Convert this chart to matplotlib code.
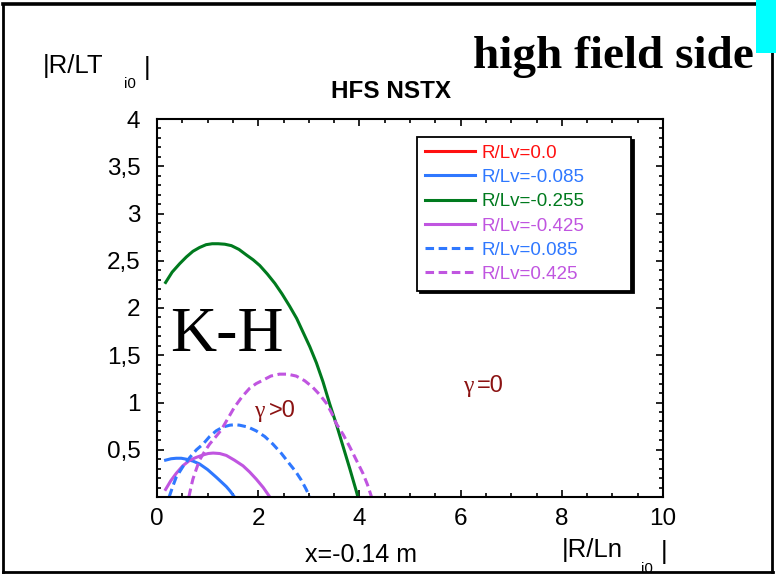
import matplotlib
matplotlib.use("Agg")
import matplotlib.pyplot as plt
from matplotlib.patches import Rectangle
from matplotlib.lines import Line2D
from matplotlib.ticker import MultipleLocator, FuncFormatter

plt.rcParams['font.family'] = ['Liberation Sans', 'DejaVu Sans']

# R/Lv = -0.255 (green, solid)
g_x = [0.17, 0.30, 0.45, 0.58, 0.71, 0.84, 0.97, 1.09, 1.21, 1.34, 1.47, 1.62, 1.77,
       1.90, 2.03, 2.18, 2.33, 2.47, 2.62, 2.76, 2.89, 3.02, 3.15, 3.28, 3.41, 3.55,
       3.68, 3.81, 3.94, 3.97]
g_y = [2.27, 2.38, 2.47, 2.54, 2.60, 2.64, 2.67, 2.68, 2.68, 2.675, 2.66, 2.62, 2.56,
       2.51, 2.45, 2.36, 2.26, 2.15, 2.02, 1.89, 1.74, 1.59, 1.42, 1.22, 0.99, 0.76,
       0.53, 0.30, 0.06, 0.0]
# R/Lv = -0.085 (blue, solid)
b_x = [0.17, 0.28, 0.38, 0.48, 0.58, 0.71, 0.84, 1.00, 1.17, 1.27, 1.37, 1.45, 1.53]
b_y = [0.39, 0.405, 0.41, 0.41, 0.40, 0.38, 0.35, 0.29, 0.21, 0.16, 0.11, 0.06, 0.0]
# R/Lv = -0.425 (purple, solid)
p_x = [0.17, 0.27, 0.38, 0.51, 0.65, 0.78, 0.91, 1.01, 1.11, 1.24, 1.37, 1.53, 1.70,
       1.83, 1.96, 2.10, 2.23]
p_y = [0.08, 0.17, 0.25, 0.33, 0.39, 0.42, 0.445, 0.46, 0.465, 0.46, 0.44, 0.39, 0.33,
       0.265, 0.19, 0.10, 0.0]
# R/Lv = 0.085 (blue, dashed)
bd_x = [0.24, 0.31, 0.38, 0.51, 0.65, 0.78, 0.91, 1.04, 1.17, 1.30, 1.44, 1.54, 1.63,
        1.80, 1.96, 2.13, 2.29, 2.46, 2.62, 2.74, 2.85, 2.94, 3.02]
bd_y = [0.0, 0.11, 0.21, 0.32, 0.42, 0.50, 0.56, 0.64, 0.70, 0.74, 0.76, 0.765, 0.76,
        0.74, 0.70, 0.64, 0.56, 0.46, 0.35, 0.27, 0.18, 0.09, 0.0]
# R/Lv = 0.425 (purple, dashed)
pd_x = [0.63, 0.67, 0.71, 0.78, 0.84, 0.94, 1.04, 1.15, 1.27, 1.40, 1.53, 1.68, 1.83,
        1.96, 2.09, 2.25, 2.42, 2.58, 2.75, 2.92, 3.08, 3.22, 3.35, 3.45, 3.54, 3.68,
        3.81, 3.94, 4.07, 4.16, 4.24]
pd_y = [0.0, 0.10, 0.19, 0.30, 0.39, 0.48, 0.56, 0.63, 0.71, 0.83, 0.95, 1.06, 1.15,
        1.20, 1.235, 1.28, 1.30, 1.30, 1.28, 1.23, 1.16, 1.08, 0.99, 0.89, 0.78, 0.66,
        0.53, 0.39, 0.25, 0.13, 0.0]
# R/Lv = 0.0 (red) - no visible curve
r_x = []
r_y = []

W, H = 776, 575
fig = plt.figure(figsize=(W / 100, H / 100), dpi=100)
ax = fig.add_axes([157 / W, 1 - 497 / H, (663 - 157) / W, (497 - 119) / H])

lw = 2.2
dash = (0, (2.8, 1.5))
ax.plot(r_x, r_y, color='#ff1010', lw=lw, label='R/Lv=0.0')
ax.plot(b_x, b_y, color='#2f78ff', lw=lw, label='R/Lv=-0.085')
ax.plot(g_x, g_y, color='#007a1e', lw=lw, label='R/Lv=-0.255')
ax.plot(p_x, p_y, color='#c055e0', lw=lw, label='R/Lv=-0.425')
ax.plot(bd_x, bd_y, color='#2f78ff', lw=lw, ls=dash, label='R/Lv=0.085')
ax.plot(pd_x, pd_y, color='#c055e0', lw=lw, ls=dash, label='R/Lv=0.425')

ax.set_xlim(0, 10)
ax.set_ylim(0, 4)
ax.xaxis.set_major_locator(MultipleLocator(2))
ax.xaxis.set_minor_locator(MultipleLocator(0.5))
ax.yaxis.set_major_locator(MultipleLocator(0.5))
ax.yaxis.set_minor_locator(MultipleLocator(0.1))
ax.yaxis.set_major_formatter(FuncFormatter(
    lambda v, p: '' if abs(v) < 1e-9 else ('%g' % v).replace('.', ',')))
ax.tick_params(which='both', direction='in', top=True, right=True, width=1.2)
ax.tick_params(which='major', length=5, labelsize=17.5)
ax.tick_params(which='minor', length=3)
ax.tick_params(axis='y', pad=12)
ax.tick_params(axis='x', pad=8)
for s in ax.spines.values():
    s.set_linewidth(1.5)

leg = ax.legend(loc='upper left', bbox_to_anchor=(0.514, 0.952, 0.423, 0.0),
                mode='expand', borderaxespad=0, fontsize=13.5, frameon=True,
                fancybox=False, edgecolor='black', labelcolor='linecolor',
                handlelength=2.7, handletextpad=0.35, labelspacing=0.38,
                borderpad=0.4,
                shadow={'color': 'black', 'alpha': 1.0})
leg.get_frame().set_linewidth(1.3)

# annotations inside the axes
ax.text(0.25, 1.7, 'K-H', family='Liberation Serif', fontsize=46,
        ha='left', va='center')
ax.text(1.92, 0.91, 'γ', family='Liberation Serif', fontsize=17,
        color='#8b1212', ha='left', va='center')
ax.text(2.22, 0.91, '>0', fontsize=17, color='#8b1212', ha='left', va='center')
ax.text(6.05, 1.17, 'γ', family='Liberation Serif', fontsize=17,
        color='#8b1212', ha='left', va='center')
ax.text(6.33, 1.17, '=0', fontsize=17, color='#8b1212', ha='left', va='center')


def ft(x, y, s, **kw):
    fig.text(x / W, 1 - y / H, s, **kw)


ft(391, 92, 'HFS NSTX', fontsize=17.5, fontweight='bold', ha='center', va='center')
ft(613, 57, 'high field side', family='Liberation Serif', fontsize=34,
   fontweight='bold', ha='center', va='center')
ft(43, 66, '|R/LT', fontsize=18.5, ha='left', va='center')
ft(124, 84, 'i0', fontsize=11, ha='left', va='center')
ft(144, 68, '|', fontsize=18.5, ha='left', va='center')
ft(361, 555, 'x=-0.14 m', fontsize=18, ha='center', va='center')
ft(562, 550, '|R/Ln', fontsize=18.5, ha='left', va='center')
ft(641, 569, 'i0', fontsize=11, ha='left', va='center')
ft(661, 552, '|', fontsize=18.5, ha='left', va='center')

# outer frame and cyan marker
fx = lambda x: x / W
fy = lambda y: 1 - y / H
fig.add_artist(Line2D([fx(3), fx(773)], [fy(4), fy(4)], color='black', lw=2.6))
fig.add_artist(Line2D([fx(3), fx(3)], [fy(4), fy(572)], color='black', lw=2.0))
fig.add_artist(Line2D([fx(3), fx(773)], [fy(572), fy(572)], color='black', lw=2.0))
fig.add_artist(Line2D([fx(772), fx(772)], [fy(4), fy(572)], color='black', lw=2.0))
fig.add_artist(Rectangle((fx(756), fy(53)), fx(776) - fx(756), fy(0) - fy(53),
                         color='#00ffff', lw=0, zorder=10))

fig.savefig('out.png', dpi=100)
